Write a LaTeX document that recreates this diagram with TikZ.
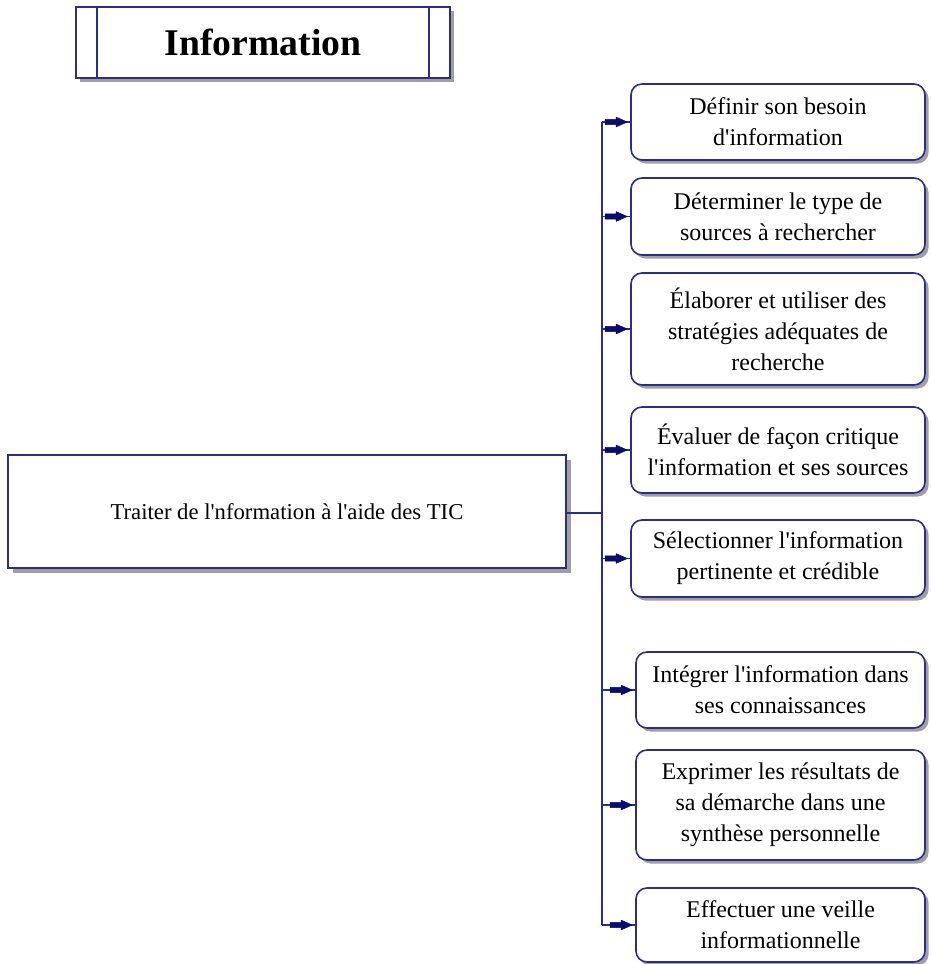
\documentclass[tikz,border=0pt]{standalone}
\usepackage{fontspec}
\setmainfont{Liberation Serif}
\usetikzlibrary{shadows}
\definecolor{navy}{RGB}{44,44,140}
\definecolor{tipblue}{RGB}{12,12,110}
\definecolor{shadowgray}{RGB}{158,158,164}
\newcommand{\apos}{\textquotesingle}
\begin{document}
\begin{tikzpicture}[x=1pt,y=-1pt,
  boxline/.style={draw=navy, line width=1.6pt, fill=white, inner sep=0pt},
  titlebox/.style={boxline, rectangle, minimum width=374pt, minimum height=71pt,
    drop shadow={shadow xshift=4pt, shadow yshift=-4pt, fill=shadowgray, opacity=1},
    font=\fontsize{37.7}{40}\selectfont\bfseries},
  mainbox/.style={boxline, rectangle, minimum width=558pt, minimum height=113pt,
    drop shadow={shadow xshift=5pt, shadow yshift=-5pt, fill=shadowgray, opacity=1},
    font=\fontsize{22.7}{28}\selectfont},
  stepbox/.style={boxline, rectangle, rounded corners=11pt, align=center,
    drop shadow={shadow xshift=3.5pt, shadow yshift=-3.5pt, fill=shadowgray, opacity=1},
    font=\fontsize{24}{31}\selectfont},
  link/.style={draw=navy, line width=1.6pt},
  headfill/.style={fill=tipblue, draw=tipblue, line width=0.6pt, line join=round}
]
\useasboundingbox (0,0) rectangle (931,964);

% heading with its two inner rules
\node[titlebox] (title) at (263,42.5) {Information};
\draw[link] ([xshift=22pt]title.north west) -- ([xshift=22pt]title.south west);
\draw[link] ([xshift=-22pt]title.north east) -- ([xshift=-22pt]title.south east);

% central competency
\node[mainbox] (main) at (287,511.5) {Traiter de l\apos nformation à l\apos aide des TIC};

% the eight steps
\node[stepbox, minimum width=294pt, minimum height=76pt] (b1) at (778,122)
  {Définir son besoin\\d\apos information};
\node[stepbox, minimum width=294pt, minimum height=77pt] (b2) at (778,216.5)
  {Déterminer le type de\\sources à rechercher};
\node[stepbox, minimum width=294pt, minimum height=112pt] (b3) at (778,329)
  {Élaborer et utiliser des\\stratégies adéquates de\\recherche};
\node[stepbox, minimum width=294pt, minimum height=86pt] (b4) at (778,450)
  {Évaluer de façon critique\\l\apos information et ses sources};
\node[stepbox, minimum width=294pt, minimum height=77pt] (b5) at (778,558.5)
  {Sélectionner l\apos information\\pertinente et crédible};
\node[stepbox, minimum width=289pt, minimum height=76pt] (b6) at (780.5,690)
  {Intégrer l\apos information dans\\ses connaissances};
\node[stepbox, minimum width=289pt, minimum height=110pt] (b7) at (780.5,805)
  {Exprimer les résultats de\\sa démarche dans une\\synthèse personnelle};
\node[stepbox, minimum width=289pt, minimum height=74pt] (b8) at (780.5,925)
  {Effectuer une veille\\informationnelle};

% connectors: main box to the trunk, trunk to each step
\coordinate (tr) at (602,513);
\draw[link] (main.east |- tr) -- (tr);
\draw[link] (tr |- b1.west) -- (tr |- b8.west);
\foreach \b in {b1,b2,b3,b4,b5,b6,b7,b8}{
  \draw[link] (tr |- \b.west) -- (\b.west);
  % flag-shaped arrowhead just before the box
  \filldraw[headfill] ([xshift=-3pt]\b.west) -- ++(-11,-4.8) -- ++(0,2.2)
    -- ++(-11,0) -- ++(0,5.2) -- ++(11,0) -- ++(0,2.2) -- cycle;
}
\end{tikzpicture}
\end{document}
